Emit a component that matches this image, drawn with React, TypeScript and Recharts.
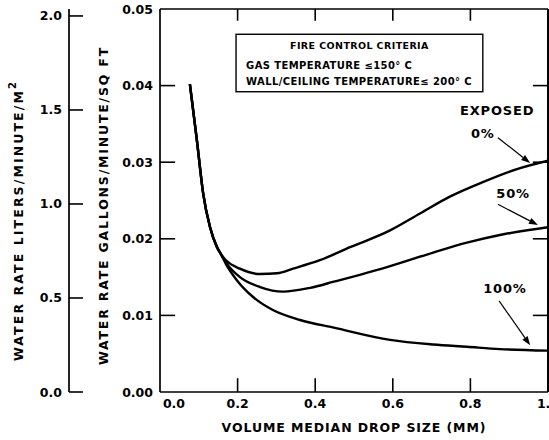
import React from 'react';
import { LineChart, Line, XAxis, YAxis, ReferenceArea, ReferenceDot, ReferenceLine } from 'recharts';

const FONT = '"DejaVu Sans", sans-serif';

// Axis ticks and labels
const dropTicks = [0, 0.2, 0.4, 0.6, 0.8, 1.0];
const dropTickLabels = ['0.0', '0.2', '0.4', '0.6', '0.8', '1.0'];
const galTicks = [0, 0.01, 0.02, 0.03, 0.04, 0.05];
const galTickLabels = ['0.00', '0.01', '0.02', '0.03', '0.04', '0.05'];
const literTicks = [0, 0.5, 1.0, 1.5, 2.0];
const literTickLabels = ['0.0', '0.5', '1.0', '1.5', '2.0'];
const dropMax = 1.0;
const galMax = 0.05;
const literMax = 2.037; // 0.05 gpm/ft2 expressed in L/min/m2

// Shared trunk of the three curves (drop size mm, water rate gpm/ft2)
const trunkSize = [0.077, 0.095, 0.111, 0.129, 0.147, 0.157];
const trunkRate = [0.0402, 0.0329, 0.026, 0.0215, 0.0189, 0.0180];

// 0% exposed
const size0 = [0.17, 0.206, 0.258, 0.302, 0.343, 0.412, 0.49, 0.593, 0.67, 0.747, 0.832, 0.92, 1.0];
const rate0 = [0.0172, 0.0161, 0.0154, 0.0155, 0.0161, 0.0172, 0.0189, 0.0211, 0.0233, 0.0255, 0.0274, 0.0291, 0.0302];

// 50% exposed
const size50 = [0.17, 0.206, 0.258, 0.317, 0.387, 0.448, 0.515, 0.585, 0.704, 0.791, 0.876, 1.0];
const rate50 = [0.0169, 0.0150, 0.0137, 0.0131, 0.0136, 0.0144, 0.0153, 0.0163, 0.0182, 0.0195, 0.0205, 0.0215];

// 100% exposed
const size100 = [0.17, 0.198, 0.24, 0.291, 0.361, 0.448, 0.593, 0.704, 0.791, 0.876, 1.0];
const rate100 = [0.0167, 0.0146, 0.0124, 0.0107, 0.0094, 0.0084, 0.0068, 0.0062, 0.0059, 0.0056, 0.0054];

// Annotations (data coordinates)
const boxX = [0.196, 0.832];
const boxY = [0.0392, 0.0467];
const boxLines = ['FIRE CONTROL CRITERIA', 'GAS TEMPERATURE \u2264150\u00b0 C', 'WALL/CEILING TEMPERATURE\u2264 200\u00b0 C'];
const noteText = ['EXPOSED', '0%', '50%', '100%'];
const noteX = [0.869, 0.832, 0.91, 0.889];
const noteY = [0.0367, 0.0338, 0.0259, 0.01345];
const arrowFromX = [0.871, 0.871, 0.874];
const arrowFromY = [0.0332, 0.0245, 0.0119];
const arrowToX = [0.954, 0.974, 0.954];
const arrowToY = [0.0299, 0.0218, 0.0061];

// Inside tick lengths in data units
const xTickLen = 0.0018; // along rate axis
const yTickLen = 0.039; // along drop-size axis

const toRows = (s: number[], r: number[]) => s.map((x, i) => ({ size: x, rate: r[i] }));
const series0 = [...toRows(trunkSize, trunkRate), ...toRows(size0, rate0)];
const series50 = [...toRows(trunkSize, trunkRate), ...toRows(size50, rate50)];
const series100 = [...toRows(trunkSize, trunkRate), ...toRows(size100, rate100)];

const innerDrop = dropTicks.filter((v) => v > 0 && v < dropMax);
const innerGal = galTicks.filter((v) => v > 0 && v < galMax);

const BOTTOM_MARGIN = 5;
const GAL_MARGIN = 7;
const LIT_MARGIN = 7;
const TICK_W = 1.6;
const AXIS_W = 1.7;

const BottomTick = (p: any) => {
  const v = p.payload.value;
  const i = dropTicks.indexOf(v);
  return (
    <text x={p.x + (v === 0 ? 14 : 0)} y={p.y} dy="0.85em" textAnchor="middle" fontFamily={FONT} fontWeight="bold" fontSize={12.5} fill="#000">
      {dropTickLabels[i]}
    </text>
  );
};

const GalTick = (p: any) => {
  const v = p.payload.value;
  const i = galTicks.indexOf(v);
  return (
    <text x={p.x} y={p.y} dy="0.36em" textAnchor="end" fontFamily={FONT} fontWeight="bold" fontSize={12.5} fill="#000">
      {galTickLabels[i]}
    </text>
  );
};

const LitTick = (p: any) => {
  const v = p.payload.value;
  const i = literTicks.indexOf(v);
  const axisX = p.x + LIT_MARGIN;
  return (
    <g>
      <path d={`M${axisX},${p.y}H${axisX + 14}`} stroke="#000" strokeWidth={TICK_W} fill="none" />
      <text x={p.x} y={p.y} dy="0.36em" textAnchor="end" fontFamily={FONT} fontWeight="bold" fontSize={12.5} fill="#000">
        {literTickLabels[i]}
      </text>
    </g>
  );
};

const LitLabel = (p: any) => {
  const vb = p.viewBox;
  const cx = vb.x + 18;
  const cy = vb.y + vb.height / 2 + 20;
  return (
    <text x={cx} y={cy} transform={`rotate(-90 ${cx} ${cy})`} textAnchor="middle" dominantBaseline="central" fontFamily={FONT} fontWeight="bold" fontSize={12.5} letterSpacing={2.1} fill="#000">
      WATER RATE LITERS/MINUTE/M<tspan dy={-6} fontSize={10}>2</tspan>
    </text>
  );
};

const GalLabel = (p: any) => {
  const vb = p.viewBox;
  const cx = vb.x + 34;
  const cy = vb.y + vb.height / 2 + 5;
  return (
    <text x={cx} y={cy} transform={`rotate(-90 ${cx} ${cy})`} textAnchor="middle" dominantBaseline="central" fontFamily={FONT} fontWeight="bold" fontSize={12.5} letterSpacing={1.8} fill="#000">
      WATER RATE GALLONS/MINUTE/SQ FT
    </text>
  );
};

const DropLabel = (p: any) => {
  const vb = p.viewBox;
  const cx = vb.x + vb.width / 2;
  return (
    <text x={cx} y={vb.y + 35} textAnchor="middle" dominantBaseline="central" fontFamily={FONT} fontWeight="bold" fontSize={12.5} letterSpacing={0.9} fill="#000">
      VOLUME MEDIAN DROP SIZE (MM)
    </text>
  );
};

const CriteriaBox = (p: any) => (
  <g>
    <rect x={p.x} y={p.y} width={p.width} height={p.height} fill="#fff" stroke="#000" strokeWidth={1.4} />
    <text x={p.x + p.width / 2} y={p.y + 15} textAnchor="middle" fontFamily={FONT} fontWeight="bold" fontSize={9.5} letterSpacing={0.4} fill="#000">{boxLines[0]}</text>
    <text x={p.x + 10} y={p.y + 35} fontFamily={FONT} fontWeight="bold" fontSize={10} letterSpacing={0.4} fill="#000">{boxLines[1]}</text>
    <text x={p.x + 10} y={p.y + 51} fontFamily={FONT} fontWeight="bold" fontSize={10} letterSpacing={0.4} fill="#000">{boxLines[2]}</text>
  </g>
);

const Arrow = (p: any) => {
  const { x1, y1, x2, y2 } = p;
  const a = Math.atan2(y2 - y1, x2 - x1);
  const L = 9;
  const W = 3.2;
  const bx = x2 - L * Math.cos(a);
  const by = y2 - L * Math.sin(a);
  const px = -Math.sin(a) * W;
  const py = Math.cos(a) * W;
  return (
    <g>
      <line x1={x1} y1={y1} x2={bx} y2={by} stroke="#000" strokeWidth={1.2} />
      <polygon points={`${x2},${y2} ${bx + px},${by + py} ${bx - px},${by - py}`} fill="#000" />
    </g>
  );
};

const TickMark = (p: any) => (
  <line x1={p.x1} y1={p.y1} x2={p.x2} y2={p.y2} stroke="#000" strokeWidth={TICK_W} />
);

const noteShape = (label: string, size: number) => (p: any) => (
  <text x={p.cx} y={p.cy} textAnchor="middle" dominantBaseline="central" fontFamily={FONT} fontWeight="bold" fontSize={size} letterSpacing={0.8} fill="#000">
    {label}
  </text>
);

export default function App() {
  return (
    <div style={{ position: 'absolute', left: 0, top: 0, width: 549, height: 440, overflow: 'hidden', background: '#fff' }}>
      <LineChart width={560} height={440} margin={{ top: 9, right: 12, bottom: 8, left: 0 }}>
        <XAxis
          xAxisId="b"
          dataKey="size"
          type="number"
          domain={[0, dropMax]}
          allowDataOverflow
          ticks={dropTicks}
          interval={0}
          height={40}
          tickSize={0}
          tickMargin={BOTTOM_MARGIN}
          tickLine={false}
          axisLine={{ stroke: '#000', strokeWidth: AXIS_W }}
          tick={BottomTick}
          label={DropLabel}
        />
        <YAxis
          yAxisId="gal"
          type="number"
          domain={[0, galMax]}
          allowDataOverflow
          ticks={galTicks}
          interval={0}
          width={91}
          tickSize={0}
          tickMargin={GAL_MARGIN}
          tickLine={false}
          axisLine={{ stroke: '#000', strokeWidth: AXIS_W }}
          tick={GalTick}
          label={GalLabel}
        />
        <YAxis
          yAxisId="lit"
          type="number"
          domain={[0, literMax]}
          allowDataOverflow
          ticks={literTicks}
          interval={0}
          width={69}
          tickSize={0}
          tickMargin={LIT_MARGIN}
          tickLine={false}
          axisLine={{ stroke: '#000', strokeWidth: AXIS_W }}
          tick={LitTick}
          label={LitLabel}
        />
        {/* frame: top and right borders */}
        <ReferenceLine xAxisId="b" yAxisId="gal" y={galMax} stroke="#000" strokeWidth={AXIS_W} ifOverflow="visible" />
        <ReferenceLine xAxisId="b" yAxisId="gal" x={dropMax} stroke="#000" strokeWidth={2} ifOverflow="visible" />
        {/* inward tick marks on the four sides */}
        {innerDrop.map((v) => (
          <ReferenceLine key={`bt-${v}`} xAxisId="b" yAxisId="gal" segment={[{ x: v, y: 0 }, { x: v, y: xTickLen }]} shape={TickMark} ifOverflow="visible" />
        ))}
        {innerDrop.map((v) => (
          <ReferenceLine key={`tt-${v}`} xAxisId="b" yAxisId="gal" segment={[{ x: v, y: galMax }, { x: v, y: galMax - xTickLen * 0.85 }]} shape={TickMark} ifOverflow="visible" />
        ))}
        {innerGal.map((v) => (
          <ReferenceLine key={`lt-${v}`} xAxisId="b" yAxisId="gal" segment={[{ x: 0, y: v }, { x: yTickLen, y: v }]} shape={TickMark} ifOverflow="visible" />
        ))}
        {innerGal.map((v) => (
          <ReferenceLine key={`rt-${v}`} xAxisId="b" yAxisId="gal" segment={[{ x: dropMax - yTickLen, y: v }, { x: dropMax, y: v }]} shape={TickMark} ifOverflow="visible" />
        ))}
        <ReferenceArea xAxisId="b" yAxisId="gal" x1={boxX[0]} x2={boxX[1]} y1={boxY[0]} y2={boxY[1]} shape={CriteriaBox} />
        <Line xAxisId="b" yAxisId="gal" data={series0} dataKey="rate" type="monotone" stroke="#000" strokeWidth={2.4} dot={false} activeDot={false} isAnimationActive={false} />
        <Line xAxisId="b" yAxisId="gal" data={series50} dataKey="rate" type="monotone" stroke="#000" strokeWidth={2.4} dot={false} activeDot={false} isAnimationActive={false} />
        <Line xAxisId="b" yAxisId="gal" data={series100} dataKey="rate" type="monotone" stroke="#000" strokeWidth={2.4} dot={false} activeDot={false} isAnimationActive={false} />
        {arrowFromX.map((x, i) => (
          <ReferenceLine
            key={`arrow-${i}`}
            xAxisId="b"
            yAxisId="gal"
            segment={[{ x, y: arrowFromY[i] }, { x: arrowToX[i], y: arrowToY[i] }]}
            shape={Arrow}
            ifOverflow="visible"
          />
        ))}
        {noteText.map((t, i) => (
          <ReferenceDot
            key={`note-${i}`}
            xAxisId="b"
            yAxisId="gal"
            x={noteX[i]}
            y={noteY[i]}
            r={0}
            ifOverflow="visible"
            shape={noteShape(t, 13)}
          />
        ))}
      </LineChart>
    </div>
  );
}
